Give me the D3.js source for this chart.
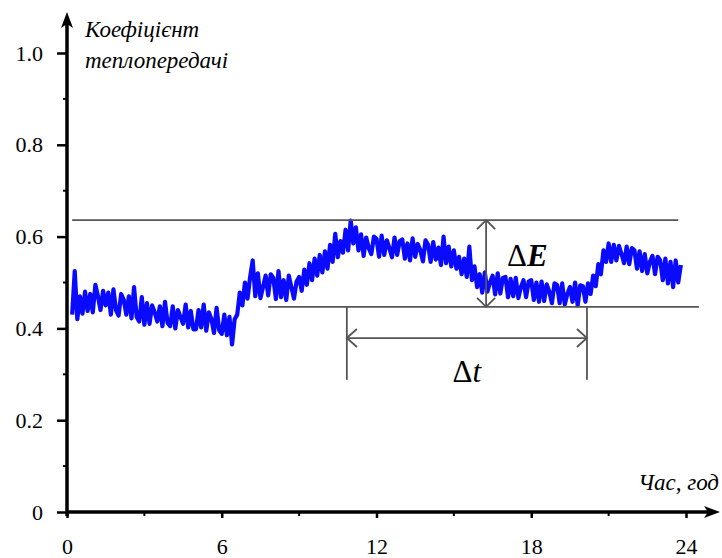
<!DOCTYPE html>
<html>
<head>
<meta charset="utf-8">
<script src="https://cdn.jsdelivr.net/npm/d3@7"></script>
<style>
  body { margin: 0; background: #fff; }
</style>
</head>
<body>
<div class="chart"></div>
<script>
"use strict";

// signal samples, one every 0.1 h starting at 0.2 h
const startHour = 0.2;
const stepHour = 0.1;
const coefficient = [
  0.43, 0.525, 0.42, 0.47, 0.432, 0.48, 0.438, 0.475,
  0.435, 0.495, 0.47, 0.44, 0.482, 0.45, 0.478, 0.43, 0.485, 0.44,
  0.428, 0.475, 0.462, 0.43, 0.47, 0.422, 0.49, 0.425, 0.415, 0.468,
  0.408, 0.455, 0.41, 0.45, 0.435, 0.415, 0.448, 0.405, 0.458, 0.412,
  0.405, 0.448, 0.4, 0.44, 0.425, 0.41, 0.452, 0.402, 0.438, 0.398,
  0.398, 0.44, 0.402, 0.452, 0.395, 0.435, 0.42, 0.39, 0.445, 0.396,
  0.388, 0.43, 0.385, 0.425, 0.365, 0.42, 0.43, 0.478, 0.45, 0.5,
  0.465, 0.512, 0.548, 0.47, 0.52, 0.466, 0.49, 0.515, 0.472, 0.518,
  0.51, 0.464, 0.525, 0.468, 0.505, 0.462, 0.515, 0.49, 0.465, 0.502,
  0.512, 0.482, 0.528, 0.495, 0.542, 0.505, 0.552, 0.515, 0.56, 0.522,
  0.568, 0.53, 0.582, 0.545, 0.606, 0.555, 0.59, 0.565, 0.615, 0.57,
  0.635, 0.585, 0.62, 0.57, 0.605, 0.558, 0.598, 0.575, 0.562, 0.6,
  0.595, 0.556, 0.602, 0.56, 0.592, 0.575, 0.555, 0.598, 0.56, 0.59,
  0.594, 0.552, 0.585, 0.548, 0.596, 0.556, 0.584, 0.57, 0.546, 0.592,
  0.582, 0.545, 0.588, 0.55, 0.576, 0.538, 0.6, 0.542, 0.578, 0.535,
  0.57, 0.53, 0.556, 0.518, 0.552, 0.512, 0.578, 0.505, 0.535, 0.49,
  0.518, 0.478, 0.522, 0.48, 0.5, 0.515, 0.474, 0.52, 0.476, 0.51,
  0.512, 0.468, 0.508, 0.47, 0.51, 0.466, 0.49, 0.505, 0.468, 0.502,
  0.505, 0.462, 0.5, 0.458, 0.502, 0.46, 0.496, 0.48, 0.455, 0.498,
  0.495, 0.455, 0.498, 0.452, 0.475, 0.49, 0.458, 0.5, 0.45, 0.494,
  0.492, 0.458, 0.498, 0.475, 0.515, 0.492, 0.54, 0.518, 0.57, 0.545,
  0.585, 0.545, 0.582, 0.548, 0.58, 0.562, 0.542, 0.578, 0.54, 0.575,
  0.57, 0.53, 0.568, 0.525, 0.562, 0.52, 0.545, 0.558, 0.518, 0.556,
  0.548, 0.505, 0.552, 0.498, 0.545, 0.49, 0.548, 0.5, 0.538
];

const xTicks = [0, 6, 12, 18, 24];
const xMinor = [3, 9, 15, 21];
const yTicks = [0, 0.2, 0.4, 0.6, 0.8, 1.0];
const yMinor = [0.1, 0.3, 0.5, 0.7, 0.9];

// annotation levels
const upperLevel = 0.636;
const lowerLevel = 0.447;
const upperSpan = [0.2, 23.7];
const lowerSpan = [7.8, 24.5];
const deltaEHour = 16.25;
const deltaT = [10.85, 20.16];
const deltaTArrow = 0.379;
const deltaTFoot = 0.288;

const serif = "'Liberation Serif', 'Times New Roman', Tinos, 'Noto Serif', 'DejaVu Serif', serif";

const width = 722;
const height = 558;

const svg = d3
  .select(".chart")
  .append("svg")
  .attr("width", width)
  .attr("height", height);

const x = d3.scaleLinear().domain([0, 24]).range([67, 686]);
const y = d3.scaleLinear().domain([0, 1]).range([512, 53]);

const series = coefficient.map((v, i) => ({ t: startHour + i * stepHour, v: v }));

// noisy signal
svg
  .append("path")
  .datum(series)
  .attr("fill", "none")
  .attr("stroke", "#0a0aff")
  .attr("stroke-width", 4.2)
  .attr("stroke-linejoin", "round")
  .attr("d", d3.line().x((d) => x(d.t)).y((d) => y(d.v)));

// level lines and dimension marks
const gray = "#555";
const mark = svg.append("g").attr("stroke", gray).attr("stroke-width", 1.8).attr("fill", "none");

mark.append("line")
  .attr("x1", x(upperSpan[0])).attr("x2", x(upperSpan[1]))
  .attr("y1", y(upperLevel)).attr("y2", y(upperLevel));
mark.append("line")
  .attr("x1", x(lowerSpan[0])).attr("x2", x(lowerSpan[1]))
  .attr("y1", y(lowerLevel)).attr("y2", y(lowerLevel));

// ΔE arrow
const ex = x(deltaEHour);
mark.append("line")
  .attr("x1", ex).attr("x2", ex)
  .attr("y1", y(upperLevel)).attr("y2", y(lowerLevel));
mark.append("path").attr("d", `M${ex - 9},${y(upperLevel) + 9}L${ex},${y(upperLevel)}L${ex + 9},${y(upperLevel) + 9}`);
mark.append("path").attr("d", `M${ex - 9},${y(lowerLevel) - 9}L${ex},${y(lowerLevel)}L${ex + 9},${y(lowerLevel) - 9}`);

// Δt arrow
deltaT.forEach((t) => {
  mark.append("line")
    .attr("x1", x(t)).attr("x2", x(t))
    .attr("y1", y(lowerLevel)).attr("y2", y(deltaTFoot));
});
const ay = y(deltaTArrow);
mark.append("line")
  .attr("x1", x(deltaT[0])).attr("x2", x(deltaT[1]))
  .attr("y1", ay).attr("y2", ay);
mark.append("path").attr("d", `M${x(deltaT[0]) + 10},${ay - 9}L${x(deltaT[0])},${ay}L${x(deltaT[0]) + 10},${ay + 9}`);
mark.append("path").attr("d", `M${x(deltaT[1]) - 10},${ay - 9}L${x(deltaT[1])},${ay}L${x(deltaT[1]) - 10},${ay + 9}`);

const dE = svg.append("text")
  .attr("x", ex + 21)
  .attr("y", y(upperLevel) + 46)
  .attr("font-family", serif)
  .attr("font-size", 31);
dE.append("tspan").text("Δ");
dE.append("tspan").attr("font-style", "italic").attr("font-weight", "bold").text("E");

const dT = svg.append("text")
  .attr("x", x((deltaT[0] + deltaT[1]) / 2))
  .attr("y", y(deltaTFoot) + 2)
  .attr("text-anchor", "middle")
  .attr("font-family", serif)
  .attr("font-size", 31);
dT.append("tspan").text("Δ");
dT.append("tspan").attr("font-style", "italic").text("t");

// axes
const xAxis = svg.append("g")
  .attr("transform", `translate(0,${y(0)})`)
  .call(d3.axisBottom(x).tickValues(xTicks).tickSize(6).tickPadding(20).tickFormat(d3.format("d")));
xAxis.select(".domain").remove();
xAxis.selectAll(".tick line").attr("stroke-width", 2.5);

svg.selectAll(".xminor")
  .data(xMinor)
  .enter()
  .append("line")
  .attr("x1", (d) => x(d)).attr("x2", (d) => x(d))
  .attr("y1", y(0)).attr("y2", y(0) + 4)
  .attr("stroke", "#000").attr("stroke-width", 2);

const yAxis = svg.append("g")
  .attr("transform", `translate(${x(0)},0)`)
  .call(d3.axisLeft(y).tickValues(yTicks).tickSize(10).tickPadding(14)
    .tickFormat((d) => (d === 0 ? "0" : d3.format(".1f")(d))));
yAxis.select(".domain").remove();
yAxis.selectAll(".tick line").attr("stroke-width", 2.5);

svg.selectAll(".tick text")
  .attr("font-family", serif)
  .attr("font-size", 22)
  .attr("fill", "#000");
xAxis.attr("font-family", serif).attr("font-size", 22);
yAxis.attr("font-family", serif).attr("font-size", 22);

svg.selectAll(".yminor")
  .data(yMinor)
  .enter()
  .append("line")
  .attr("x1", x(0) - 4).attr("x2", x(0))
  .attr("y1", (d) => y(d)).attr("y2", (d) => y(d))
  .attr("stroke", "#000").attr("stroke-width", 2);

// axis lines with arrows
svg.append("line")
  .attr("x1", x(0) - 1).attr("x2", 710)
  .attr("y1", y(0)).attr("y2", y(0))
  .attr("stroke", "#000").attr("stroke-width", 3.5);
svg.append("path")
  .attr("d", `M720,${y(0)}L704,${y(0) - 6}L708,${y(0)}L704,${y(0) + 6}Z`)
  .attr("fill", "#000");

svg.append("line")
  .attr("x1", x(0)).attr("x2", x(0))
  .attr("y1", y(0) + 4).attr("y2", 22)
  .attr("stroke", "#000").attr("stroke-width", 3.5);
svg.append("path")
  .attr("d", `M${x(0)},12L${x(0) - 6},28L${x(0)},24L${x(0) + 6},28Z`)
  .attr("fill", "#000");

// axis titles
const title = (tx, ty, s, anchor) =>
  svg.append("text")
    .attr("x", tx).attr("y", ty)
    .attr("text-anchor", anchor)
    .attr("font-family", serif)
    .attr("font-style", "italic")
    .attr("font-size", 23)
    .text(s);

title(85, 37, "Коефіцієнт", "start");
title(85, 68, "теплопередачі", "start");
title(719, 490, "Час, год", "end");
</script>
</body>
</html>
